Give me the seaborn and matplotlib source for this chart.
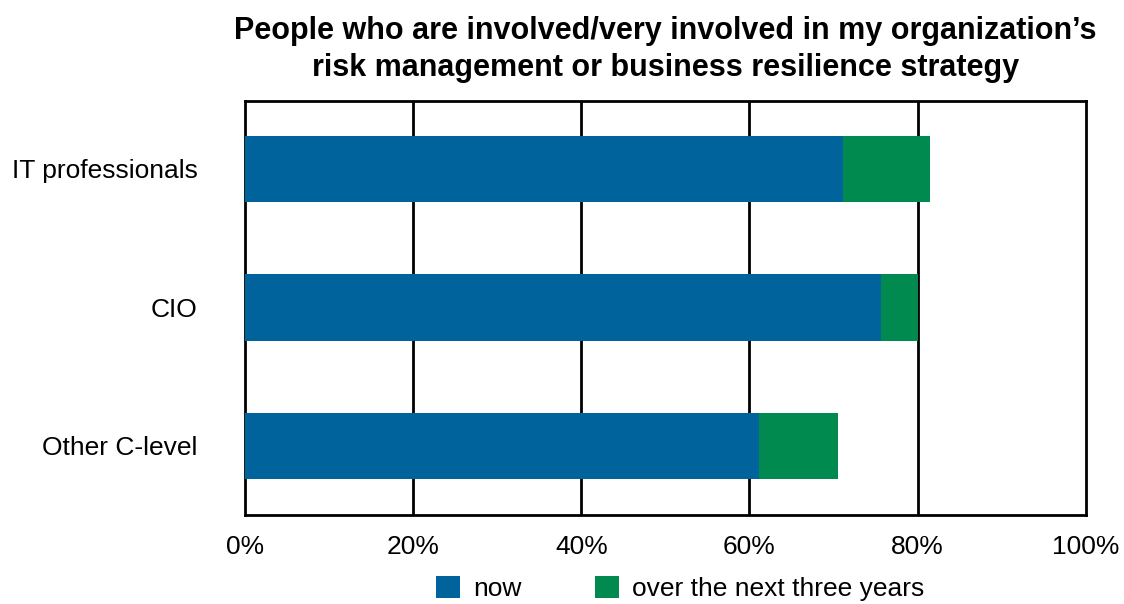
import matplotlib
matplotlib.use("Agg")
import matplotlib.pyplot as plt
import seaborn as sns
import pandas as pd
from matplotlib.patches import Patch

categories = ["IT professionals", "CIO", "Other C-level"]
now_vals = [71.1, 75.6, 61.1]
next_vals = [10.4, 4.4, 9.4]
series_names = ["now", "over the next three years"]
x_ticks = [0, 20, 40, 60, 80, 100]
x_labels = ["0%", "20%", "40%", "60%", "80%", "100%"]
title = "People who are involved/very involved in my organization\u2019s\nrisk management or business resilience strategy"

blue = "#00639C"
green = "#008A50"

sns.set_theme(style="white")
plt.rcParams['font.family'] = ['Liberation Sans', 'DejaVu Sans']
plt.rcParams['text.color'] = 'black'
plt.rcParams['xtick.color'] = 'black'
plt.rcParams['ytick.color'] = 'black'

totals = [a + b for a, b in zip(now_vals, next_vals)]
df = pd.DataFrame({"cat": categories, "now": now_vals, "total": totals})

fig = plt.figure(figsize=(11.24, 6.04), dpi=100)
ax = fig.add_axes([0.218, 0.147, 0.748, 0.686])

for x in x_ticks[1:-1]:
    ax.axvline(x, color="black", lw=2, zorder=0)

sns.barplot(data=df, x="total", y="cat", color=green, orient="h", width=0.48,
            saturation=1, linewidth=0, ax=ax, zorder=2)
sns.barplot(data=df, x="now", y="cat", color=blue, orient="h", width=0.48,
            saturation=1, linewidth=0, ax=ax, zorder=3)

ax.set_xlim(0, 100)
ax.set_ylim(2.5, -0.49)
ax.set_xticks(x_ticks)
ax.set_xticklabels(x_labels, fontsize=19)
ax.tick_params(axis="x", length=0, pad=14, labelcolor="black")
ax.tick_params(axis="y", length=0, pad=34, labelsize=19, labelcolor="black")
ax.set_xlabel("")
ax.set_ylabel("")
for s in ax.spines.values():
    s.set_visible(True)
    s.set_color("black")
    s.set_linewidth(2)

ax.set_title(title, fontsize=22, fontweight="bold", pad=18, linespacing=1.3,
             color="black")

handles = [Patch(facecolor=blue, edgecolor="none", label=series_names[0]),
           Patch(facecolor=green, edgecolor="none", label=series_names[1])]
fig.legend(handles=handles, loc="lower center", bbox_to_anchor=(0.605, -0.035),
           ncol=2, frameon=False, fontsize=19, handlelength=0.9, handleheight=0.9,
           handletextpad=0.5, columnspacing=2.8)

fig.savefig("out.png", dpi=100)
